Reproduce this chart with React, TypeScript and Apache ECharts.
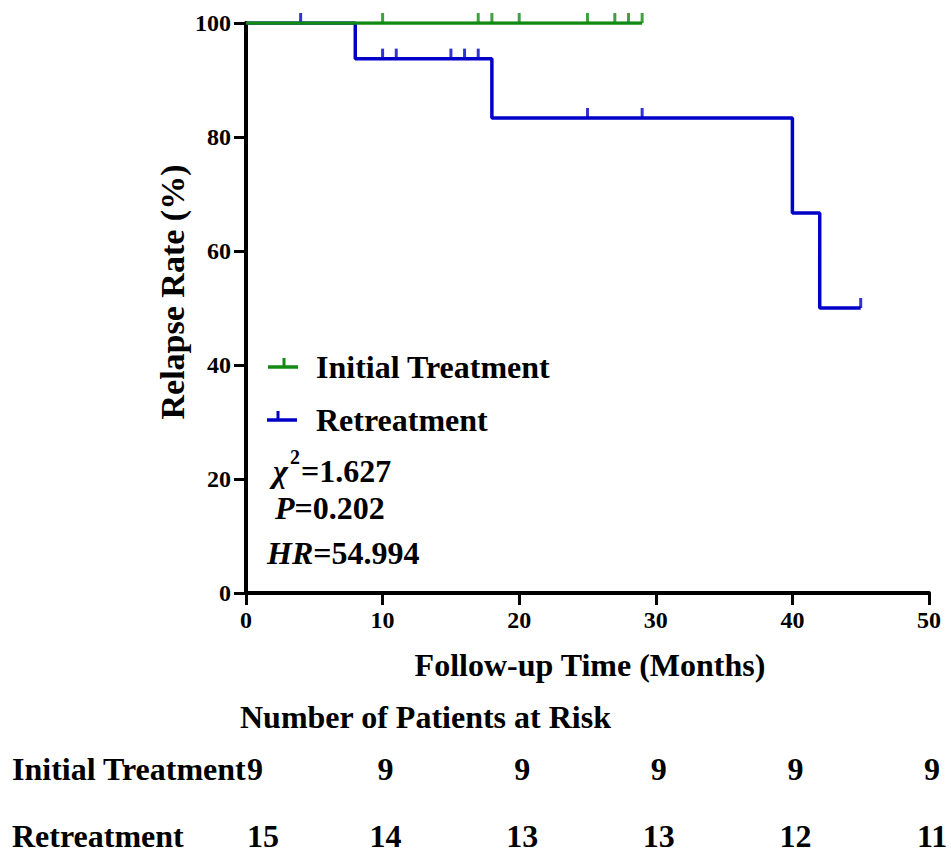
import React, { useEffect, useRef } from 'react';
import * as echarts from 'echarts';

const FONT = "'Liberation Serif', 'Times New Roman', serif";
const GREEN = '#128a12';
const BLUE = '#0000c8';

// Kaplan-Meier steps
const initialTimes = [0, 29];
const initialRate = [100, 100];
const initialCensorTimes = [10, 17, 18, 20, 25, 27, 28, 29];

const retreatTimes = [0, 8, 18, 40, 42, 45];
const retreatRate = [100, 93.75, 83.33, 66.67, 50, 50];
const retreatCensorTimes = [4, 10, 11, 15, 16, 17, 25, 29, 45];

// Number at risk table
const riskTimes = [0, 10, 20, 30, 40, 50];
const initialAtRisk = [9, 9, 9, 9, 9, 9];
const retreatAtRisk = [15, 14, 13, 13, 12, 11];

const seriesNames = ['Initial Treatment', 'Retreatment'];
const chiSquare = '1.627';
const pValue = '0.202';
const hazardRatio = '54.994';

function rateAt(times: number[], rates: number[], t: number): number {
  let r = rates[0];
  for (let i = 0; i < times.length; i++) {
    if (times[i] <= t) r = rates[i];
  }
  return r;
}

const fontStr = (size: number, italic = false) =>
  `${italic ? 'italic ' : ''}bold ${size}px ${FONT}`;

const txt = (x: number, y: number, text: string, extra: any = {}) => {
  const size = extra.fontSize || 32;
  const italic = extra.fontStyle === 'italic';
  return {
    type: 'text',
    x,
    y,
    style: {
      text,
      fill: '#000',
      font: fontStr(size, italic),
      fontFamily: FONT,
      fontWeight: 'bold',
      fontSize: size,
      fontStyle: italic ? 'italic' : 'normal',
      align: 'left',
      verticalAlign: 'middle',
      ...extra,
    },
  };
};

export default function App() {
  const ref = useRef<HTMLDivElement>(null);

  useEffect(() => {
    if (!ref.current) return;
    const chart = echarts.init(ref.current, undefined, { renderer: 'svg' });

    const axisCommon = {
      axisLine: { show: true, onZero: false, lineStyle: { color: '#000', width: 4 } },
      axisTick: { show: true, length: 12, lineStyle: { color: '#000', width: 3 } },
      splitLine: { show: false },
    };

    chart.setOption({
      animation: false,
      backgroundColor: '#fff',
      grid: { left: 246, right: 22, top: 23, bottom: 263, containLabel: false },
      xAxis: {
        type: 'value',
        min: 0,
        max: 50,
        interval: 10,
        ...axisCommon,
        axisLabel: {
          color: '#000',
          fontFamily: FONT,
          fontWeight: 'bold',
          fontSize: 24,
          margin: 15,
        },
      },
      yAxis: {
        type: 'value',
        min: 0,
        max: 100,
        interval: 20,
        ...axisCommon,
        axisLabel: {
          color: '#000',
          fontFamily: FONT,
          fontWeight: 'bold',
          fontSize: 24,
          margin: 15,
        },
      },
      series: [
        {
          name: seriesNames[1],
          type: 'line',
          step: 'end',
          showSymbol: false,
          data: retreatTimes.map((t, i) => [t, retreatRate[i]]),
          lineStyle: { color: BLUE, width: 3.5 },
          itemStyle: { color: BLUE },
          z: 2,
        },
        {
          name: seriesNames[1] + ' censored',
          type: 'scatter',
          symbol: 'rect',
          symbolSize: [3, 10],
          symbolOffset: [0, -5],
          data: retreatCensorTimes.map((t) => [t, rateAt(retreatTimes, retreatRate, t)]),
          itemStyle: { color: BLUE },
          z: 3,
        },
        {
          name: seriesNames[0],
          type: 'line',
          step: 'end',
          showSymbol: false,
          data: initialTimes.map((t, i) => [t, initialRate[i]]),
          lineStyle: { color: GREEN, width: 3.5 },
          itemStyle: { color: GREEN },
          z: 4,
        },
        {
          name: seriesNames[0] + ' censored',
          type: 'scatter',
          symbol: 'rect',
          symbolSize: [3, 10],
          symbolOffset: [0, -5],
          data: initialCensorTimes.map((t) => [t, rateAt(initialTimes, initialRate, t)]),
          itemStyle: { color: GREEN },
          z: 5,
        },
      ],
    });

    const px = (t: number) => chart.convertToPixel({ xAxisIndex: 0 }, t) as number;

    const tableEls: any[] = [];
    riskTimes.forEach((t, i) => {
      const x = px(t);
      const align = i === 0 ? 'left' : 'center';
      const dx = i === 0 ? 1 : 3;
      tableEls.push(txt(x + dx, 769, String(initialAtRisk[i]), { align }));
      tableEls.push(txt(x + dx, 836, String(retreatAtRisk[i]), { align }));
    });

    const italicRich = { i: { font: fontStr(32, true), fontStyle: 'italic', fontWeight: 'bold', fontFamily: FONT, fontSize: 32 } };

    chart.setOption({
      graphic: [
        // axis titles
        {
          type: 'text',
          x: 172,
          y: 292,
          rotation: Math.PI / 2,
          style: {
            text: 'Relapse Rate (%)',
            fill: '#000',
            font: fontStr(34),
            fontFamily: FONT,
            fontWeight: 'bold',
            fontSize: 34,
            align: 'center',
            verticalAlign: 'middle',
          },
        },
        txt(590, 665, 'Follow-up Time (Months)', { align: 'center' }),
        // legend
        { type: 'line', shape: { x1: 268, y1: 367, x2: 298, y2: 367 }, style: { stroke: GREEN, lineWidth: 3.5 } },
        { type: 'line', shape: { x1: 284, y1: 358, x2: 284, y2: 367 }, style: { stroke: GREEN, lineWidth: 3 } },
        txt(316, 367, seriesNames[0]),
        { type: 'line', shape: { x1: 267, y1: 420, x2: 297, y2: 420 }, style: { stroke: BLUE, lineWidth: 3.5 } },
        { type: 'line', shape: { x1: 278, y1: 411, x2: 278, y2: 420 }, style: { stroke: BLUE, lineWidth: 3 } },
        txt(316, 420, seriesNames[1]),
        // statistics
        txt(273, 471, 'χ', { fontStyle: 'italic' }),
        txt(290, 457, '2', { fontSize: 20 }),
        txt(301, 471, '=' + chiSquare),
        txt(275, 508, '{i|P}=' + pValue, { rich: italicRich }),
        txt(267, 553, '{i|HR}=' + hazardRatio, { rich: italicRich }),
        // risk table
        txt(240, 717, 'Number of Patients at Risk'),
        txt(12, 769, seriesNames[0]),
        txt(12, 836, seriesNames[1]),
        ...tableEls,
      ],
    });

    return () => chart.dispose();
  }, []);

  return (
    <div
      ref={ref}
      style={{ position: 'fixed', left: 0, top: 0, width: 951, height: 856, background: '#fff' }}
    />
  );
}
